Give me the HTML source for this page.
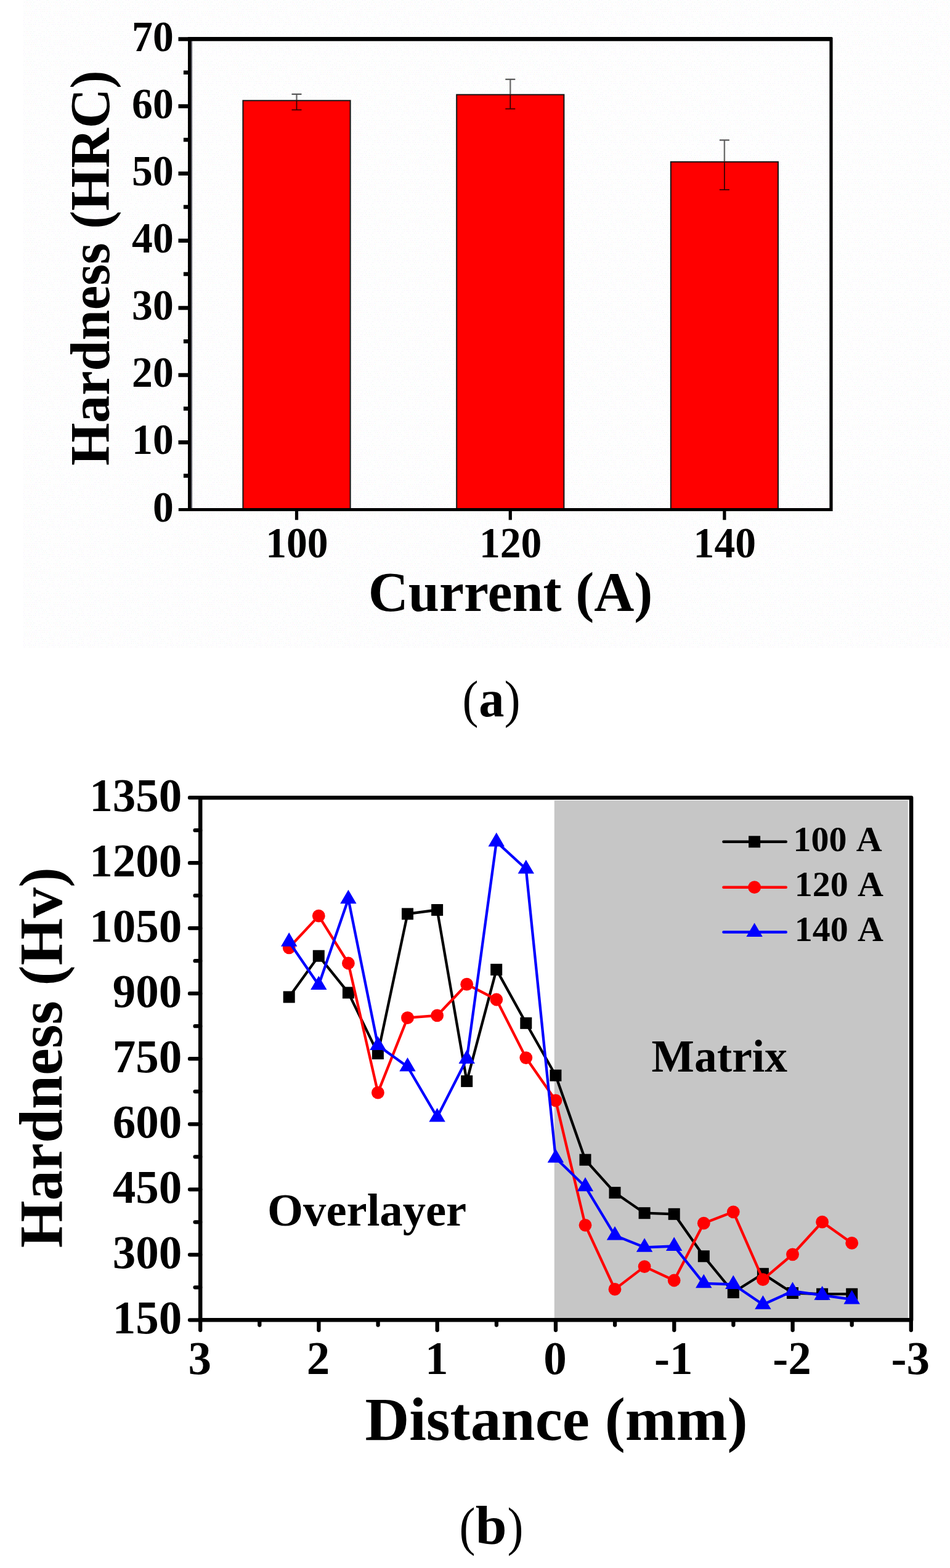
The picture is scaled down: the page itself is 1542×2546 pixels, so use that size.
<!DOCTYPE html>
<html lang="en">
<head>
<meta charset="utf-8">
<title>Hardness of overlayers at different welding currents</title>
<style>
html,body{margin:0;padding:0;background:#fff;}
body{width:1542px;height:2546px;overflow:hidden;}
svg{display:block;}
text{font-family:"Liberation Serif", "DejaVu Serif", serif;fill:#000;}
.ta{font-weight:bold;font-size:69px;}
.tb{font-weight:bold;font-size:77px;}
.tt{font-weight:bold;}
</style>
</head>
<body>
<svg width="1542" height="2546" viewBox="0 0 1542 2546">
<defs><pattern id="dither" width="48" height="48" patternUnits="userSpaceOnUse" shape-rendering="crispEdges"><rect x="0" y="0" width="1" height="1" fill="#fdebfd"/><rect x="2" y="3" width="1" height="1" fill="#eaf4ec"/><rect x="1" y="6" width="1" height="1" fill="#f5eaff"/><rect x="3" y="9" width="1" height="1" fill="#eaf4ec"/><rect x="1" y="12" width="1" height="1" fill="#fff2e8"/><rect x="2" y="15" width="1" height="1" fill="#ecfff2"/><rect x="0" y="18" width="1" height="1" fill="#fdebfd"/><rect x="3" y="21" width="1" height="1" fill="#eaf4ec"/><rect x="1" y="24" width="1" height="1" fill="#eeeeff"/><rect x="2" y="27" width="1" height="1" fill="#fff2e8"/><rect x="2" y="33" width="1" height="1" fill="#f5eaff"/><rect x="0" y="36" width="1" height="1" fill="#fdebfd"/><rect x="2" y="39" width="1" height="1" fill="#eaf4ec"/><rect x="0" y="42" width="1" height="1" fill="#eaf4ec"/><rect x="2" y="45" width="1" height="1" fill="#ecfff2"/><rect x="4" y="0" width="1" height="1" fill="#eafdfd"/><rect x="6" y="3" width="1" height="1" fill="#eaf4ec"/><rect x="4" y="6" width="1" height="1" fill="#eafdfd"/><rect x="5" y="9" width="1" height="1" fill="#eafdfd"/><rect x="4" y="12" width="1" height="1" fill="#eafdfd"/><rect x="4" y="18" width="1" height="1" fill="#f5eaff"/><rect x="6" y="21" width="1" height="1" fill="#fff2e8"/><rect x="3" y="24" width="1" height="1" fill="#fff2e8"/><rect x="5" y="27" width="1" height="1" fill="#fdebfd"/><rect x="3" y="30" width="1" height="1" fill="#fff2e8"/><rect x="6" y="39" width="1" height="1" fill="#eeeeff"/><rect x="3" y="42" width="1" height="1" fill="#fdebfd"/><rect x="8" y="3" width="1" height="1" fill="#eeeeff"/><rect x="6" y="6" width="1" height="1" fill="#eafdfd"/><rect x="8" y="9" width="1" height="1" fill="#f5eaff"/><rect x="6" y="12" width="1" height="1" fill="#ecfff2"/><rect x="9" y="15" width="1" height="1" fill="#f5eaff"/><rect x="7" y="18" width="1" height="1" fill="#eeeeff"/><rect x="8" y="21" width="1" height="1" fill="#f5eaff"/><rect x="6" y="24" width="1" height="1" fill="#eeeeff"/><rect x="9" y="27" width="1" height="1" fill="#fff2e8"/><rect x="8" y="33" width="1" height="1" fill="#ecfff2"/><rect x="9" y="39" width="1" height="1" fill="#eeeeff"/><rect x="7" y="42" width="1" height="1" fill="#fff2e8"/><rect x="11" y="9" width="1" height="1" fill="#eaf4ec"/><rect x="11" y="15" width="1" height="1" fill="#f5eaff"/><rect x="10" y="18" width="1" height="1" fill="#fdebfd"/><rect x="11" y="21" width="1" height="1" fill="#fdebfd"/><rect x="9" y="24" width="1" height="1" fill="#eaf4ec"/><rect x="11" y="27" width="1" height="1" fill="#fdebfd"/><rect x="9" y="30" width="1" height="1" fill="#ecfff2"/><rect x="11" y="33" width="1" height="1" fill="#f5eaff"/><rect x="9" y="36" width="1" height="1" fill="#f5eaff"/><rect x="12" y="0" width="1" height="1" fill="#f5eaff"/><rect x="14" y="9" width="1" height="1" fill="#fdebfd"/><rect x="12" y="12" width="1" height="1" fill="#eeeeff"/><rect x="15" y="15" width="1" height="1" fill="#eaf4ec"/><rect x="12" y="18" width="1" height="1" fill="#eafdfd"/><rect x="12" y="24" width="1" height="1" fill="#ecfff2"/><rect x="14" y="27" width="1" height="1" fill="#fdebfd"/><rect x="13" y="30" width="1" height="1" fill="#eafdfd"/><rect x="14" y="33" width="1" height="1" fill="#eafdfd"/><rect x="15" y="39" width="1" height="1" fill="#f5eaff"/><rect x="16" y="0" width="1" height="1" fill="#f5eaff"/><rect x="15" y="6" width="1" height="1" fill="#eaf4ec"/><rect x="17" y="9" width="1" height="1" fill="#eeeeff"/><rect x="17" y="15" width="1" height="1" fill="#fdebfd"/><rect x="17" y="21" width="1" height="1" fill="#eafdfd"/><rect x="15" y="24" width="1" height="1" fill="#eafdfd"/><rect x="18" y="27" width="1" height="1" fill="#f5eaff"/><rect x="15" y="30" width="1" height="1" fill="#ecfff2"/><rect x="15" y="36" width="1" height="1" fill="#eeeeff"/><rect x="15" y="42" width="1" height="1" fill="#ecfff2"/><rect x="20" y="3" width="1" height="1" fill="#fff2e8"/><rect x="18" y="6" width="1" height="1" fill="#f5eaff"/><rect x="18" y="12" width="1" height="1" fill="#eaf4ec"/><rect x="20" y="15" width="1" height="1" fill="#fff2e8"/><rect x="18" y="18" width="1" height="1" fill="#fdebfd"/><rect x="19" y="24" width="1" height="1" fill="#f5eaff"/><rect x="20" y="27" width="1" height="1" fill="#eaf4ec"/><rect x="19" y="30" width="1" height="1" fill="#eafdfd"/><rect x="21" y="33" width="1" height="1" fill="#eeeeff"/><rect x="18" y="36" width="1" height="1" fill="#fdebfd"/><rect x="19" y="42" width="1" height="1" fill="#fdebfd"/><rect x="23" y="3" width="1" height="1" fill="#eaf4ec"/><rect x="23" y="9" width="1" height="1" fill="#eeeeff"/><rect x="22" y="12" width="1" height="1" fill="#eafdfd"/><rect x="23" y="15" width="1" height="1" fill="#eaf4ec"/><rect x="21" y="18" width="1" height="1" fill="#eaf4ec"/><rect x="22" y="30" width="1" height="1" fill="#eaf4ec"/><rect x="24" y="33" width="1" height="1" fill="#fff2e8"/><rect x="21" y="36" width="1" height="1" fill="#eaf4ec"/><rect x="21" y="42" width="1" height="1" fill="#fdebfd"/><rect x="27" y="3" width="1" height="1" fill="#eafdfd"/><rect x="24" y="12" width="1" height="1" fill="#eaf4ec"/><rect x="26" y="15" width="1" height="1" fill="#fdebfd"/><rect x="24" y="18" width="1" height="1" fill="#eaf4ec"/><rect x="27" y="21" width="1" height="1" fill="#fdebfd"/><rect x="27" y="27" width="1" height="1" fill="#eafdfd"/><rect x="25" y="30" width="1" height="1" fill="#eaf4ec"/><rect x="27" y="33" width="1" height="1" fill="#eeeeff"/><rect x="24" y="36" width="1" height="1" fill="#eafdfd"/><rect x="26" y="45" width="1" height="1" fill="#eeeeff"/><rect x="28" y="0" width="1" height="1" fill="#eaf4ec"/><rect x="30" y="3" width="1" height="1" fill="#fff2e8"/><rect x="27" y="6" width="1" height="1" fill="#f5eaff"/><rect x="27" y="12" width="1" height="1" fill="#fdebfd"/><rect x="29" y="15" width="1" height="1" fill="#fdebfd"/><rect x="28" y="18" width="1" height="1" fill="#fff2e8"/><rect x="30" y="27" width="1" height="1" fill="#ecfff2"/><rect x="28" y="36" width="1" height="1" fill="#eafdfd"/><rect x="29" y="39" width="1" height="1" fill="#eafdfd"/><rect x="28" y="42" width="1" height="1" fill="#eaf4ec"/><rect x="30" y="0" width="1" height="1" fill="#ecfff2"/><rect x="32" y="3" width="1" height="1" fill="#eafdfd"/><rect x="32" y="9" width="1" height="1" fill="#fdebfd"/><rect x="31" y="12" width="1" height="1" fill="#eeeeff"/><rect x="33" y="15" width="1" height="1" fill="#fff2e8"/><rect x="31" y="18" width="1" height="1" fill="#eafdfd"/><rect x="32" y="21" width="1" height="1" fill="#eeeeff"/><rect x="31" y="24" width="1" height="1" fill="#eafdfd"/><rect x="32" y="27" width="1" height="1" fill="#eaf4ec"/><rect x="31" y="36" width="1" height="1" fill="#eaf4ec"/><rect x="32" y="39" width="1" height="1" fill="#f5eaff"/><rect x="30" y="42" width="1" height="1" fill="#fdebfd"/><rect x="35" y="3" width="1" height="1" fill="#eafdfd"/><rect x="33" y="6" width="1" height="1" fill="#fff2e8"/><rect x="35" y="9" width="1" height="1" fill="#fff2e8"/><rect x="33" y="12" width="1" height="1" fill="#ecfff2"/><rect x="33" y="18" width="1" height="1" fill="#ecfff2"/><rect x="34" y="24" width="1" height="1" fill="#fdebfd"/><rect x="35" y="27" width="1" height="1" fill="#f5eaff"/><rect x="33" y="30" width="1" height="1" fill="#f5eaff"/><rect x="36" y="33" width="1" height="1" fill="#ecfff2"/><rect x="33" y="36" width="1" height="1" fill="#fff2e8"/><rect x="36" y="39" width="1" height="1" fill="#eeeeff"/><rect x="35" y="45" width="1" height="1" fill="#ecfff2"/><rect x="39" y="3" width="1" height="1" fill="#eaf4ec"/><rect x="38" y="9" width="1" height="1" fill="#f5eaff"/><rect x="39" y="21" width="1" height="1" fill="#eeeeff"/><rect x="38" y="27" width="1" height="1" fill="#fdebfd"/><rect x="36" y="30" width="1" height="1" fill="#eaf4ec"/><rect x="38" y="33" width="1" height="1" fill="#f5eaff"/><rect x="36" y="36" width="1" height="1" fill="#fff2e8"/><rect x="38" y="39" width="1" height="1" fill="#f5eaff"/><rect x="42" y="3" width="1" height="1" fill="#fdebfd"/><rect x="41" y="9" width="1" height="1" fill="#eafdfd"/><rect x="39" y="18" width="1" height="1" fill="#ecfff2"/><rect x="41" y="21" width="1" height="1" fill="#ecfff2"/><rect x="40" y="24" width="1" height="1" fill="#f5eaff"/><rect x="39" y="30" width="1" height="1" fill="#fff2e8"/><rect x="39" y="36" width="1" height="1" fill="#f5eaff"/><rect x="41" y="39" width="1" height="1" fill="#eeeeff"/><rect x="39" y="42" width="1" height="1" fill="#f5eaff"/><rect x="42" y="45" width="1" height="1" fill="#f5eaff"/><rect x="43" y="0" width="1" height="1" fill="#ecfff2"/><rect x="44" y="3" width="1" height="1" fill="#fff2e8"/><rect x="42" y="6" width="1" height="1" fill="#fdebfd"/><rect x="44" y="9" width="1" height="1" fill="#fff2e8"/><rect x="42" y="12" width="1" height="1" fill="#ecfff2"/><rect x="42" y="18" width="1" height="1" fill="#fff2e8"/><rect x="44" y="21" width="1" height="1" fill="#fff2e8"/><rect x="42" y="24" width="1" height="1" fill="#ecfff2"/><rect x="45" y="39" width="1" height="1" fill="#ecfff2"/><rect x="45" y="45" width="1" height="1" fill="#ecfff2"/><rect x="45" y="0" width="1" height="1" fill="#eafdfd"/><rect x="0" y="3" width="1" height="1" fill="#ecfff2"/><rect x="45" y="6" width="1" height="1" fill="#f5eaff"/><rect x="47" y="9" width="1" height="1" fill="#fff2e8"/><rect x="45" y="18" width="1" height="1" fill="#ecfff2"/><rect x="47" y="21" width="1" height="1" fill="#f5eaff"/><rect x="45" y="24" width="1" height="1" fill="#f5eaff"/><rect x="45" y="30" width="1" height="1" fill="#f5eaff"/><rect x="46" y="36" width="1" height="1" fill="#f5eaff"/><rect x="47" y="39" width="1" height="1" fill="#fdebfd"/><rect x="47" y="45" width="1" height="1" fill="#eafdfd"/></pattern></defs>
<rect x="38" y="0" width="1504" height="1052" fill="#fefefe"/>
<rect x="38" y="0" width="1504" height="1052" fill="url(#dither)"/>
<rect x="394.4" y="163.3" width="174.2" height="664.1" fill="#ff0000" stroke="#141414" stroke-width="2"/>
<rect x="741.2" y="153.7" width="174.2" height="673.7" fill="#ff0000" stroke="#141414" stroke-width="2"/>
<rect x="1088.8" y="262.8" width="174.2" height="564.6" fill="#ff0000" stroke="#141414" stroke-width="2"/>
<path d="M481.5 152.9V162.3" stroke="#6e6e6e" stroke-width="2.4" fill="none"/>
<path d="M481.5 162.3V178.4" stroke="#3a0000" stroke-width="1.8" fill="none"/>
<path d="M473.5 152.9H489.5" stroke="#555" stroke-width="2.2" fill="none"/>
<path d="M473.5 178.4H489.5" stroke="#3a0000" stroke-width="1.8" fill="none"/>
<path d="M828.3 128.8V152.7" stroke="#6e6e6e" stroke-width="2.4" fill="none"/>
<path d="M828.3 152.7V176.7" stroke="#3a0000" stroke-width="1.8" fill="none"/>
<path d="M820.3 128.8H836.3" stroke="#555" stroke-width="2.2" fill="none"/>
<path d="M820.3 176.7H836.3" stroke="#3a0000" stroke-width="1.8" fill="none"/>
<path d="M1175.9 227.5V261.8" stroke="#6e6e6e" stroke-width="2.4" fill="none"/>
<path d="M1175.9 261.8V308.1" stroke="#3a0000" stroke-width="1.8" fill="none"/>
<path d="M1167.9 227.5H1183.9" stroke="#555" stroke-width="2.2" fill="none"/>
<path d="M1167.9 308.1H1183.9" stroke="#3a0000" stroke-width="1.8" fill="none"/>
<rect x="310" y="66" width="2.1" height="760" fill="#5c5c64"/>
<path d="M305 60H1350.6V60.8H1351.6V830H305Z M310 66.7V825H1346.4V66.7Z" fill="#000" fill-rule="evenodd"/>
<path d="M289.5 718.2H306M289.5 609.1H306M289.5 500.0H306M289.5 390.8H306M289.5 281.7H306M289.5 172.6H306M289.5 63.5H306M297.9 772.5H306M297.9 663.4H306M297.9 554.3H306M297.9 445.1H306M297.9 336.0H306M297.9 226.9H306M297.9 117.8H306" stroke="#000" stroke-width="6.5" fill="none"/>
<rect x="289.8" y="825" width="16" height="5" fill="#000"/>
<path d="M481.5 829V844.3M828.3 829V844.3M1175.9 829V844.3" stroke="#000" stroke-width="5.2" fill="none"/>
<text class="ta" transform="translate(281.7 846.5) scale(0.98 1)" text-anchor="end">0</text>
<text class="ta" transform="translate(281.7 737.4) scale(0.98 1)" text-anchor="end">10</text>
<text class="ta" transform="translate(281.7 628.2) scale(0.98 1)" text-anchor="end">20</text>
<text class="ta" transform="translate(281.7 519.1) scale(0.98 1)" text-anchor="end">30</text>
<text class="ta" transform="translate(281.7 410.0) scale(0.98 1)" text-anchor="end">40</text>
<text class="ta" transform="translate(281.7 300.9) scale(0.98 1)" text-anchor="end">50</text>
<text class="ta" transform="translate(281.7 191.7) scale(0.98 1)" text-anchor="end">60</text>
<text class="ta" transform="translate(281.7 82.6) scale(0.98 1)" text-anchor="end">70</text>
<text class="ta" transform="translate(481.9 905.0) scale(0.98 1)" text-anchor="middle">100</text>
<text class="ta" transform="translate(828.7 905.0) scale(0.98 1)" text-anchor="middle">120</text>
<text class="ta" transform="translate(1176.3 905.0) scale(0.98 1)" text-anchor="middle">140</text>
<text transform="translate(597.72 992.00) scale(0.9910 1)" font-size="91" font-weight="bold">Current (A)</text>
<text transform="translate(177.20 756.06) rotate(-90) scale(0.9805 1)" font-size="91" font-weight="bold">Hardness (HRC)</text>
<g><text transform="translate(750.58 1163.55) scale(0.9140 1)" font-size="85.40" font-weight="normal">(</text><text transform="translate(777.32 1162.94) scale(0.9627 1)" font-size="85.62" font-weight="bold">a</text><text transform="translate(818.45 1163.55) scale(0.9186 1)" font-size="85.40" font-weight="normal">)</text></g>
<rect x="899.8" y="1299.9" width="574" height="841.6" fill="#c6c6c6"/>
<g fill="#000"><polyline points="469.2,1618.9 517.3,1552.2 565.4,1611.9 613.4,1710.6 661.5,1483.9 709.6,1477.5 757.7,1755.6 805.8,1574.4 853.8,1661.3 901.9,1746.2 950.0,1883.2 998.0,1936.6 1046.1,1969.7 1094.2,1971.3 1142.3,2039.8 1190.3,2098.5 1238.4,2068.3 1286.5,2099.5 1334.6,2101.2 1382.7,2101.2" fill="none" stroke="#000" stroke-width="4.3" stroke-linejoin="round"/>
<rect x="459.7" y="1609.4" width="19" height="19"/>
<rect x="507.8" y="1542.7" width="19" height="19"/>
<rect x="555.9" y="1602.4" width="19" height="19"/>
<rect x="603.9" y="1701.1" width="19" height="19"/>
<rect x="652.0" y="1474.4" width="19" height="19"/>
<rect x="700.1" y="1468.0" width="19" height="19"/>
<rect x="748.2" y="1746.1" width="19" height="19"/>
<rect x="796.2" y="1564.9" width="19" height="19"/>
<rect x="844.3" y="1651.8" width="19" height="19"/>
<rect x="892.4" y="1736.7" width="19" height="19"/>
<rect x="940.5" y="1873.7" width="19" height="19"/>
<rect x="988.5" y="1927.1" width="19" height="19"/>
<rect x="1036.6" y="1960.2" width="19" height="19"/>
<rect x="1084.7" y="1961.8" width="19" height="19"/>
<rect x="1132.8" y="2030.3" width="19" height="19"/>
<rect x="1180.8" y="2089.0" width="19" height="19"/>
<rect x="1228.9" y="2058.8" width="19" height="19"/>
<rect x="1277.0" y="2090.0" width="19" height="19"/>
<rect x="1325.1" y="2091.7" width="19" height="19"/>
<rect x="1373.2" y="2091.7" width="19" height="19"/>
</g>
<g fill="#ff0000"><polyline points="469.2,1538.8 517.3,1487.2 565.4,1564.0 613.4,1774.1 661.5,1652.7 709.6,1648.9 757.7,1598.2 805.8,1623.0 853.8,1717.6 901.9,1786.8 950.0,1989.3 998.0,2093.4 1046.1,2056.6 1094.2,2079.0 1142.3,1986.2 1190.3,1967.8 1238.4,2077.7 1286.5,2036.8 1334.6,1984.2 1382.7,2018.4" fill="none" stroke="#ff0000" stroke-width="4.3" stroke-linejoin="round"/>
<circle cx="469.2" cy="1538.8" r="10.4"/>
<circle cx="517.3" cy="1487.2" r="10.4"/>
<circle cx="565.4" cy="1564.0" r="10.4"/>
<circle cx="613.4" cy="1774.1" r="10.4"/>
<circle cx="661.5" cy="1652.7" r="10.4"/>
<circle cx="709.6" cy="1648.9" r="10.4"/>
<circle cx="757.7" cy="1598.2" r="10.4"/>
<circle cx="805.8" cy="1623.0" r="10.4"/>
<circle cx="853.8" cy="1717.6" r="10.4"/>
<circle cx="901.9" cy="1786.8" r="10.4"/>
<circle cx="950.0" cy="1989.3" r="10.4"/>
<circle cx="998.0" cy="2093.4" r="10.4"/>
<circle cx="1046.1" cy="2056.6" r="10.4"/>
<circle cx="1094.2" cy="2079.0" r="10.4"/>
<circle cx="1142.3" cy="1986.2" r="10.4"/>
<circle cx="1190.3" cy="1967.8" r="10.4"/>
<circle cx="1238.4" cy="2077.7" r="10.4"/>
<circle cx="1286.5" cy="2036.8" r="10.4"/>
<circle cx="1334.6" cy="1984.2" r="10.4"/>
<circle cx="1382.7" cy="2018.4" r="10.4"/>
</g>
<g fill="#0000ff"><polyline points="469.2,1529.2 517.3,1599.5 565.4,1459.8 613.4,1697.5 661.5,1732.0 709.6,1814.0 757.7,1719.5 805.8,1366.9 853.8,1411.0 901.9,1880.3 950.0,1926.7 998.0,2006.0 1046.1,2025.3 1094.2,2023.5 1142.3,2083.8 1190.3,2085.5 1238.4,2118.3 1286.5,2096.5 1334.6,2103.2 1382.7,2109.9" fill="none" stroke="#0000ff" stroke-width="4.3" stroke-linejoin="round"/>
<path d="M469.2 1514.1L482.4 1536.7H456.0Z"/>
<path d="M517.3 1584.4L530.5 1607.0H504.1Z"/>
<path d="M565.4 1444.7L578.6 1467.3H552.2Z"/>
<path d="M613.4 1682.4L626.6 1705.0H600.2Z"/>
<path d="M661.5 1716.9L674.7 1739.5H648.3Z"/>
<path d="M709.6 1798.9L722.8 1821.5H696.4Z"/>
<path d="M757.7 1704.4L770.9 1727.0H744.5Z"/>
<path d="M805.8 1351.8L819.0 1374.4H792.5Z"/>
<path d="M853.8 1395.9L867.0 1418.5H840.6Z"/>
<path d="M901.9 1865.2L915.1 1887.8H888.7Z"/>
<path d="M950.0 1911.6L963.2 1934.2H936.8Z"/>
<path d="M998.0 1990.9L1011.2 2013.5H984.8Z"/>
<path d="M1046.1 2010.2L1059.3 2032.8H1032.9Z"/>
<path d="M1094.2 2008.4L1107.4 2031.0H1081.0Z"/>
<path d="M1142.3 2068.7L1155.5 2091.3H1129.1Z"/>
<path d="M1190.3 2070.4L1203.5 2093.0H1177.1Z"/>
<path d="M1238.4 2103.2L1251.6 2125.8H1225.2Z"/>
<path d="M1286.5 2081.4L1299.7 2104.0H1273.3Z"/>
<path d="M1334.6 2088.1L1347.8 2110.7H1321.4Z"/>
<path d="M1382.7 2094.8L1395.9 2117.4H1369.5Z"/>
</g>
<rect x="325.2" y="1295.2" width="1153.8999999999999" height="848.1000000000001" fill="none" stroke="#000" stroke-width="6.5" stroke-linejoin="round"/>
<path d="M308 2143.3H325.2M308 2037.3H325.2M308 1931.3H325.2M308 1825.3H325.2M308 1719.2H325.2M308 1613.2H325.2M308 1507.2H325.2M308 1401.2H325.2M308 1295.2H325.2M316.6 2090.3H325.2M316.6 1984.3H325.2M316.6 1878.3H325.2M316.6 1772.3H325.2M316.6 1666.2H325.2M316.6 1560.2H325.2M316.6 1454.2H325.2M316.6 1348.2H325.2M325.2 2143.3V2159.8M517.4 2143.3V2159.8M709.7 2143.3V2159.8M902.0 2143.3V2159.8M1094.3 2143.3V2159.8M1286.6 2143.3V2159.8M1478.8 2143.3V2159.8M421.3 2143.3V2151.6M613.6 2143.3V2151.6M805.9 2143.3V2151.6M998.1 2143.3V2151.6M1190.4 2143.3V2151.6M1382.7 2143.3V2151.6" stroke="#000" stroke-width="6.3" stroke-linecap="round" fill="none"/>
<text class="tb" transform="translate(295.4 2165.0) scale(0.975 1)" text-anchor="end">150</text>
<text class="tb" transform="translate(295.4 2059.0) scale(0.975 1)" text-anchor="end">300</text>
<text class="tb" transform="translate(295.4 1953.0) scale(0.975 1)" text-anchor="end">450</text>
<text class="tb" transform="translate(295.4 1847.0) scale(0.975 1)" text-anchor="end">600</text>
<text class="tb" transform="translate(295.4 1741.0) scale(0.975 1)" text-anchor="end">750</text>
<text class="tb" transform="translate(295.4 1634.9) scale(0.975 1)" text-anchor="end">900</text>
<text class="tb" transform="translate(295.4 1528.9) scale(0.975 1)" text-anchor="end">1050</text>
<text class="tb" transform="translate(295.4 1422.9) scale(0.975 1)" text-anchor="end">1200</text>
<text class="tb" transform="translate(295.4 1316.9) scale(0.975 1)" text-anchor="end">1350</text>
<text class="tb" transform="translate(324.2 2231.2) scale(0.975 1)" text-anchor="middle">3</text>
<text class="tb" transform="translate(516.4 2231.2) scale(0.975 1)" text-anchor="middle">2</text>
<text class="tb" transform="translate(708.7 2231.2) scale(0.975 1)" text-anchor="middle">1</text>
<text class="tb" transform="translate(901.0 2231.2) scale(0.975 1)" text-anchor="middle">0</text>
<text class="tb" transform="translate(1093.3 2231.2) scale(0.975 1)" text-anchor="middle">-1</text>
<text class="tb" transform="translate(1285.6 2231.2) scale(0.975 1)" text-anchor="middle">-2</text>
<text class="tb" transform="translate(1477.8 2231.2) scale(0.975 1)" text-anchor="middle">-3</text>
<text transform="translate(592.46 2337.80) scale(0.9973 1)" font-size="99.7" font-weight="bold">Distance (mm)</text>
<text transform="translate(100.20 2026.33) rotate(-90) scale(0.9933 1)" font-size="99.6" font-weight="bold">Hardness (Hv)</text>
<text transform="translate(434.06 1989.90) scale(1.0017 1)" font-size="74.5" font-weight="bold">Overlayer</text>
<text transform="translate(1057.61 1739.50) scale(0.9930 1)" font-size="74" font-weight="bold">Matrix</text>
<g fill="#000"><path d="M1174.4 1366.8H1275.8" stroke="#000" stroke-width="4.4" stroke-linecap="round" fill="none"/><rect x="1215.1" y="1357.3" width="19" height="19"/></g>
<text class="tt" x="1287.4" y="1382.0" font-size="58" word-spacing="4">100 A</text>
<g fill="#ff0000"><path d="M1174.4 1440.7H1275.8" stroke="#ff0000" stroke-width="4.4" stroke-linecap="round" fill="none"/><circle cx="1224.6" cy="1440.7" r="10.4"/></g>
<text class="tt" x="1289.8" y="1455.2" font-size="58" word-spacing="4">120 A</text>
<g fill="#0000ff"><path d="M1174.4 1513.5H1275.8" stroke="#0000ff" stroke-width="4.4" stroke-linecap="round" fill="none"/><path d="M1224.6 1498.4L1237.8 1521.0H1211.4Z"/></g>
<text class="tt" x="1289.8" y="1527.9" font-size="58" word-spacing="4">140 A</text>
<g><text transform="translate(745.58 2507.68) scale(0.9105 1)" font-size="85.73" font-weight="normal">(</text><text transform="translate(771.86 2507.32) scale(1.0392 1)" font-size="88.09" font-weight="bold">b</text><text transform="translate(823.46 2507.68) scale(0.9105 1)" font-size="85.73" font-weight="normal">)</text></g>
</svg>
</body>
</html>
